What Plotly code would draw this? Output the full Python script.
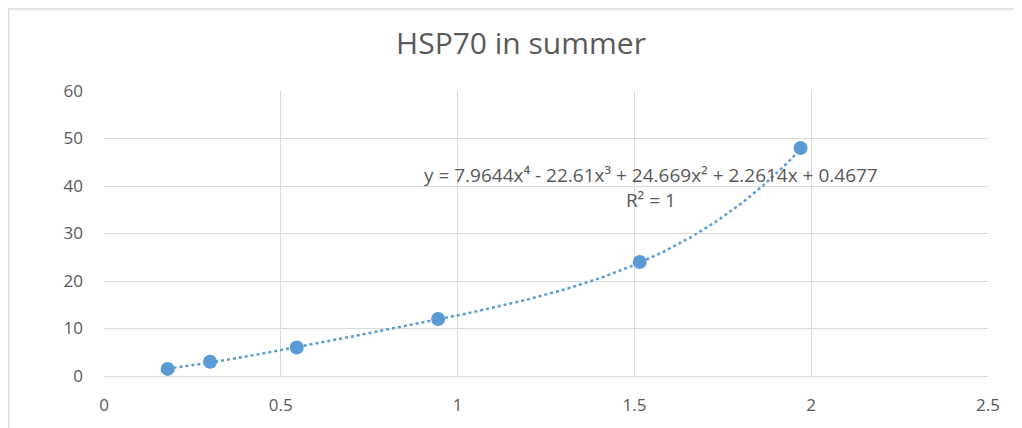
import numpy as np
import plotly.graph_objects as go

# Data
x_vals = [0.18, 0.30, 0.545, 0.945, 1.515, 1.97]
y_vals = [1.5, 3.0, 6.0, 12.0, 24.0, 48.0]

# Trendline coefficients shown on the chart (highest power first)
trend_coefs = [7.9644, -22.61, 24.669, 2.2614, 0.4677]

x_ticks = [0, 0.5, 1, 1.5, 2, 2.5]
x_tick_text = ["0", "0.5", "1", "1.5", "2", "2.5"]
y_ticks = [0, 10, 20, 30, 40, 50, 60]

title_text = "HSP70 in summer"
eq_text = "y = 7.9644x⁴ - 22.61x³ + 24.669x² + 2.2614x + 0.4677"
r2_text = "R² = 1"

blue = "#5b9bd5"
grid = "#d9d9d9"
txt = "#595959"
font_family = "Open Sans, Noto Sans, sans-serif"

xt = np.linspace(min(x_vals), max(x_vals), 200)
yt = np.polyval(trend_coefs, xt)

fig = go.Figure()
fig.add_trace(go.Scatter(x=xt, y=yt, mode="lines",
                         line=dict(color=blue, width=2.5, dash="dot"),
                         hoverinfo="skip", showlegend=False))
fig.add_trace(go.Scatter(x=x_vals, y=y_vals, mode="markers",
                         marker=dict(color=blue, size=14),
                         showlegend=False))

# page has an 8px body margin: figure div starts at page (8, 8)
OFF = 8
W, H = 1022 - OFF, 428 - OFF
ml, mr, mt, mb = 104 - OFF, 34, 91 - OFF, 50
pw, ph = W - ml - mr, H - mt - mb

def px_x(p):  # page pixel -> paper
    return (p - OFF - ml) / pw

def px_y(p):
    return (H - mb - (p - OFF)) / ph

fig.add_shape(type="line", xref="paper", yref="paper",
              x0=px_x(8), x1=px_x(1030), y0=px_y(8.5), y1=px_y(8.5),
              line=dict(color=grid, width=1.5))
fig.add_shape(type="line", xref="paper", yref="paper",
              x0=px_x(8.5), x1=px_x(8.5), y0=px_y(8), y1=px_y(440),
              line=dict(color=grid, width=1.5))

fig.add_annotation(x=px_x(650.5), y=px_y(188), xref="paper", yref="paper",
                   xanchor="center", yanchor="middle", align="center",
                   text=eq_text + "<br>" + r2_text, showarrow=False,
                   font=dict(size=19, color=txt, family=font_family))

fig.update_layout(
    width=W, height=H,
    margin=dict(l=ml, r=mr, t=mt, b=mb),
    paper_bgcolor="white", plot_bgcolor="white",
    title=dict(text=title_text, xref="paper", x=px_x(521), xanchor="center",
               yref="container", y=1 - (43 - OFF) / H, yanchor="middle",
               font=dict(size=30, color=txt, family=font_family)),
    xaxis=dict(range=[0, 2.5], tickvals=x_ticks, ticktext=x_tick_text,
               showgrid=True, gridcolor=grid, gridwidth=1,
               showline=True, linecolor=grid, mirror=False, zeroline=False,
               ticks="", ticklabelstandoff=14,
               tickfont=dict(size=17, color=txt, family=font_family)),
    yaxis=dict(range=[0, 60], tickvals=y_ticks,
               showgrid=True, gridcolor=grid, gridwidth=1,
               showline=False, zeroline=False, ticks="", ticklabelstandoff=20,
               tickfont=dict(size=17, color=txt, family=font_family)),
)

fig.write_html("out.html")
